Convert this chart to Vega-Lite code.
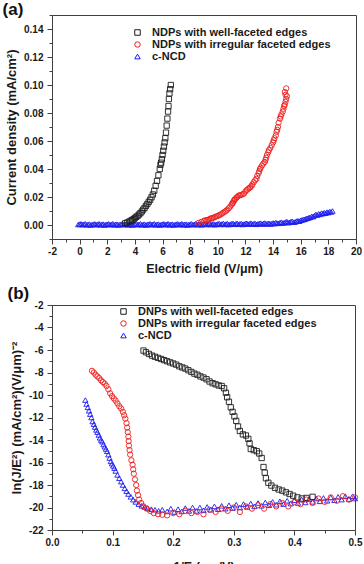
{
  "$schema": "https://vega.github.io/schema/vega-lite/v6.json",
  "padding": {"left": 2, "top": 0, "right": 4, "bottom": 0},
  "spacing": 9,
  "config": {
    "font": "Liberation Sans",
    "view": {"stroke": "#404040", "strokeWidth": 1},
    "axis": {
      "grid": false,
      "labelFont": "Liberation Sans",
      "labelFontWeight": "bold",
      "labelFontSize": 10,
      "labelColor": "#1a1a1a",
      "titleFont": "Liberation Sans",
      "titleFontWeight": "bold",
      "titleColor": "#1a1a1a",
      "domainColor": "#404040",
      "tickColor": "#404040",
      "labelFlush": false,
      "labelOverlap": false
    },
    "axisX": {"titleFontSize": 12.5},
    "axisY": {"titleFontSize": 13},
    "legend": {
      "labelFont": "Liberation Sans",
      "labelFontWeight": "bold",
      "labelFontSize": 11,
      "labelColor": "#1a1a1a",
      "labelLimit": 0,
      "symbolStrokeWidth": 1,
      "symbolSize": 30,
      "rowPadding": 0,
      "padding": 0,
      "labelOffset": 9
    },
    "title": {"font": "Liberation Sans", "fontWeight": "bold", "fontSize": 17, "color": "#111"}
  },
  "datasets": {
    "fe": [
      {"E": 3.3, "J": 0.0012, "series": "NDPs with well-faceted edges"},
      {"E": 3.45, "J": 0.0018, "series": "NDPs with well-faceted edges"},
      {"E": 3.6, "J": 0.0025, "series": "NDPs with well-faceted edges"},
      {"E": 3.7, "J": 0.003, "series": "NDPs with well-faceted edges"},
      {"E": 3.8, "J": 0.0035, "series": "NDPs with well-faceted edges"},
      {"E": 3.9, "J": 0.0042, "series": "NDPs with well-faceted edges"},
      {"E": 4.0, "J": 0.005, "series": "NDPs with well-faceted edges"},
      {"E": 4.1, "J": 0.0058, "series": "NDPs with well-faceted edges"},
      {"E": 4.2, "J": 0.0066, "series": "NDPs with well-faceted edges"},
      {"E": 4.3, "J": 0.0075, "series": "NDPs with well-faceted edges"},
      {"E": 4.4, "J": 0.0085, "series": "NDPs with well-faceted edges"},
      {"E": 4.5, "J": 0.0097, "series": "NDPs with well-faceted edges"},
      {"E": 4.6, "J": 0.011, "series": "NDPs with well-faceted edges"},
      {"E": 4.7, "J": 0.0122, "series": "NDPs with well-faceted edges"},
      {"E": 4.8, "J": 0.0137, "series": "NDPs with well-faceted edges"},
      {"E": 4.9, "J": 0.015, "series": "NDPs with well-faceted edges"},
      {"E": 5.0, "J": 0.0165, "series": "NDPs with well-faceted edges"},
      {"E": 5.1, "J": 0.018, "series": "NDPs with well-faceted edges"},
      {"E": 5.2, "J": 0.0198, "series": "NDPs with well-faceted edges"},
      {"E": 5.3, "J": 0.0218, "series": "NDPs with well-faceted edges"},
      {"E": 5.4, "J": 0.0245, "series": "NDPs with well-faceted edges"},
      {"E": 5.5, "J": 0.028, "series": "NDPs with well-faceted edges"},
      {"E": 5.6, "J": 0.0315, "series": "NDPs with well-faceted edges"},
      {"E": 5.7, "J": 0.0355, "series": "NDPs with well-faceted edges"},
      {"E": 5.8, "J": 0.04, "series": "NDPs with well-faceted edges"},
      {"E": 5.85, "J": 0.043, "series": "NDPs with well-faceted edges"},
      {"E": 5.9, "J": 0.0445, "series": "NDPs with well-faceted edges"},
      {"E": 5.95, "J": 0.047, "series": "NDPs with well-faceted edges"},
      {"E": 6.0, "J": 0.05, "series": "NDPs with well-faceted edges"},
      {"E": 6.05, "J": 0.053, "series": "NDPs with well-faceted edges"},
      {"E": 6.1, "J": 0.056, "series": "NDPs with well-faceted edges"},
      {"E": 6.15, "J": 0.059, "series": "NDPs with well-faceted edges"},
      {"E": 6.2, "J": 0.062, "series": "NDPs with well-faceted edges"},
      {"E": 6.25, "J": 0.066, "series": "NDPs with well-faceted edges"},
      {"E": 6.3, "J": 0.071, "series": "NDPs with well-faceted edges"},
      {"E": 6.35, "J": 0.076, "series": "NDPs with well-faceted edges"},
      {"E": 6.4, "J": 0.081, "series": "NDPs with well-faceted edges"},
      {"E": 6.43, "J": 0.085, "series": "NDPs with well-faceted edges"},
      {"E": 6.46, "J": 0.09, "series": "NDPs with well-faceted edges"},
      {"E": 6.5, "J": 0.094, "series": "NDPs with well-faceted edges"},
      {"E": 6.55, "J": 0.097, "series": "NDPs with well-faceted edges"},
      {"E": 6.6, "J": 0.1, "series": "NDPs with well-faceted edges"},

      {"E": 8.6, "J": 0.0015, "series": "NDPs with irregular faceted edges"},
      {"E": 8.8, "J": 0.0022, "series": "NDPs with irregular faceted edges"},
      {"E": 9.0, "J": 0.003, "series": "NDPs with irregular faceted edges"},
      {"E": 9.1, "J": 0.0033, "series": "NDPs with irregular faceted edges"},
      {"E": 9.2, "J": 0.0035, "series": "NDPs with irregular faceted edges"},
      {"E": 9.3, "J": 0.0037, "series": "NDPs with irregular faceted edges"},
      {"E": 9.4, "J": 0.0042, "series": "NDPs with irregular faceted edges"},
      {"E": 9.5, "J": 0.0047, "series": "NDPs with irregular faceted edges"},
      {"E": 9.6, "J": 0.005, "series": "NDPs with irregular faceted edges"},
      {"E": 9.7, "J": 0.0052, "series": "NDPs with irregular faceted edges"},
      {"E": 9.8, "J": 0.0057, "series": "NDPs with irregular faceted edges"},
      {"E": 9.9, "J": 0.0062, "series": "NDPs with irregular faceted edges"},
      {"E": 10.0, "J": 0.0065, "series": "NDPs with irregular faceted edges"},
      {"E": 10.1, "J": 0.007, "series": "NDPs with irregular faceted edges"},
      {"E": 10.2, "J": 0.0075, "series": "NDPs with irregular faceted edges"},
      {"E": 10.3, "J": 0.0082, "series": "NDPs with irregular faceted edges"},
      {"E": 10.4, "J": 0.0088, "series": "NDPs with irregular faceted edges"},
      {"E": 10.5, "J": 0.0095, "series": "NDPs with irregular faceted edges"},
      {"E": 10.6, "J": 0.0102, "series": "NDPs with irregular faceted edges"},
      {"E": 10.7, "J": 0.011, "series": "NDPs with irregular faceted edges"},
      {"E": 10.8, "J": 0.012, "series": "NDPs with irregular faceted edges"},
      {"E": 10.9, "J": 0.0132, "series": "NDPs with irregular faceted edges"},
      {"E": 11.0, "J": 0.0145, "series": "NDPs with irregular faceted edges"},
      {"E": 11.05, "J": 0.0155, "series": "NDPs with irregular faceted edges"},
      {"E": 11.1, "J": 0.016, "series": "NDPs with irregular faceted edges"},
      {"E": 11.15, "J": 0.017, "series": "NDPs with irregular faceted edges"},
      {"E": 11.2, "J": 0.018, "series": "NDPs with irregular faceted edges"},
      {"E": 11.25, "J": 0.0185, "series": "NDPs with irregular faceted edges"},
      {"E": 11.35, "J": 0.0195, "series": "NDPs with irregular faceted edges"},
      {"E": 11.4, "J": 0.02, "series": "NDPs with irregular faceted edges"},
      {"E": 11.5, "J": 0.021, "series": "NDPs with irregular faceted edges"},
      {"E": 11.6, "J": 0.0212, "series": "NDPs with irregular faceted edges"},
      {"E": 11.7, "J": 0.0215, "series": "NDPs with irregular faceted edges"},
      {"E": 11.8, "J": 0.022, "series": "NDPs with irregular faceted edges"},
      {"E": 11.9, "J": 0.0225, "series": "NDPs with irregular faceted edges"},
      {"E": 12.0, "J": 0.024, "series": "NDPs with irregular faceted edges"},
      {"E": 12.1, "J": 0.025, "series": "NDPs with irregular faceted edges"},
      {"E": 12.2, "J": 0.0258, "series": "NDPs with irregular faceted edges"},
      {"E": 12.3, "J": 0.0265, "series": "NDPs with irregular faceted edges"},
      {"E": 12.35, "J": 0.027, "series": "NDPs with irregular faceted edges"},
      {"E": 12.45, "J": 0.028, "series": "NDPs with irregular faceted edges"},
      {"E": 12.5, "J": 0.029, "series": "NDPs with irregular faceted edges"},
      {"E": 12.6, "J": 0.0305, "series": "NDPs with irregular faceted edges"},
      {"E": 12.7, "J": 0.032, "series": "NDPs with irregular faceted edges"},
      {"E": 12.8, "J": 0.033, "series": "NDPs with irregular faceted edges"},
      {"E": 12.85, "J": 0.035, "series": "NDPs with irregular faceted edges"},
      {"E": 12.95, "J": 0.037, "series": "NDPs with irregular faceted edges"},
      {"E": 13.0, "J": 0.0385, "series": "NDPs with irregular faceted edges"},
      {"E": 13.05, "J": 0.04, "series": "NDPs with irregular faceted edges"},
      {"E": 13.1, "J": 0.041, "series": "NDPs with irregular faceted edges"},
      {"E": 13.2, "J": 0.0425, "series": "NDPs with irregular faceted edges"},
      {"E": 13.3, "J": 0.044, "series": "NDPs with irregular faceted edges"},
      {"E": 13.4, "J": 0.045, "series": "NDPs with irregular faceted edges"},
      {"E": 13.45, "J": 0.0465, "series": "NDPs with irregular faceted edges"},
      {"E": 13.5, "J": 0.048, "series": "NDPs with irregular faceted edges"},
      {"E": 13.55, "J": 0.05, "series": "NDPs with irregular faceted edges"},
      {"E": 13.65, "J": 0.052, "series": "NDPs with irregular faceted edges"},
      {"E": 13.7, "J": 0.0535, "series": "NDPs with irregular faceted edges"},
      {"E": 13.8, "J": 0.055, "series": "NDPs with irregular faceted edges"},
      {"E": 13.9, "J": 0.057, "series": "NDPs with irregular faceted edges"},
      {"E": 14.0, "J": 0.059, "series": "NDPs with irregular faceted edges"},
      {"E": 14.05, "J": 0.0605, "series": "NDPs with irregular faceted edges"},
      {"E": 14.1, "J": 0.062, "series": "NDPs with irregular faceted edges"},
      {"E": 14.2, "J": 0.064, "series": "NDPs with irregular faceted edges"},
      {"E": 14.25, "J": 0.0665, "series": "NDPs with irregular faceted edges"},
      {"E": 14.3, "J": 0.068, "series": "NDPs with irregular faceted edges"},
      {"E": 14.35, "J": 0.07, "series": "NDPs with irregular faceted edges"},
      {"E": 14.4, "J": 0.073, "series": "NDPs with irregular faceted edges"},
      {"E": 14.5, "J": 0.076, "series": "NDPs with irregular faceted edges"},
      {"E": 14.55, "J": 0.0775, "series": "NDPs with irregular faceted edges"},
      {"E": 14.6, "J": 0.079, "series": "NDPs with irregular faceted edges"},
      {"E": 14.7, "J": 0.081, "series": "NDPs with irregular faceted edges"},
      {"E": 14.75, "J": 0.083, "series": "NDPs with irregular faceted edges"},
      {"E": 14.8, "J": 0.085, "series": "NDPs with irregular faceted edges"},
      {"E": 14.85, "J": 0.086, "series": "NDPs with irregular faceted edges"},
      {"E": 14.9, "J": 0.088, "series": "NDPs with irregular faceted edges"},
      {"E": 14.95, "J": 0.09, "series": "NDPs with irregular faceted edges"},
      {"E": 15.0, "J": 0.092, "series": "NDPs with irregular faceted edges"},
      {"E": 14.9, "J": 0.093, "series": "NDPs with irregular faceted edges"},
      {"E": 14.85, "J": 0.095, "series": "NDPs with irregular faceted edges"},
      {"E": 14.95, "J": 0.0976, "series": "NDPs with irregular faceted edges"},

      {"E": -0.1, "J": 0.0003, "series": "c-NCD"},
      {"E": 0.0, "J": 0.0006, "series": "c-NCD"},
      {"E": 0.1, "J": 0.0008, "series": "c-NCD"},
      {"E": 0.2, "J": 0.0002, "series": "c-NCD"},
      {"E": 0.3, "J": 0.0005, "series": "c-NCD"},
      {"E": 0.4, "J": 0.0009, "series": "c-NCD"},
      {"E": 0.5, "J": 0.0001, "series": "c-NCD"},
      {"E": 0.6, "J": 0.0004, "series": "c-NCD"},
      {"E": 0.7, "J": 0.0006, "series": "c-NCD"},
      {"E": 0.8, "J": 0.0, "series": "c-NCD"},
      {"E": 0.9, "J": 0.0003, "series": "c-NCD"},
      {"E": 1.0, "J": 0.0006, "series": "c-NCD"},
      {"E": 1.1, "J": 0.0008, "series": "c-NCD"},
      {"E": 1.2, "J": 0.0002, "series": "c-NCD"},
      {"E": 1.3, "J": 0.0005, "series": "c-NCD"},
      {"E": 1.4, "J": 0.0009, "series": "c-NCD"},
      {"E": 1.5, "J": 0.0001, "series": "c-NCD"},
      {"E": 1.6, "J": 0.0004, "series": "c-NCD"},
      {"E": 1.7, "J": 0.0006, "series": "c-NCD"},
      {"E": 1.8, "J": 0.0, "series": "c-NCD"},
      {"E": 1.9, "J": 0.0003, "series": "c-NCD"},
      {"E": 2.0, "J": 0.0006, "series": "c-NCD"},
      {"E": 2.1, "J": 0.0008, "series": "c-NCD"},
      {"E": 2.2, "J": 0.0002, "series": "c-NCD"},
      {"E": 2.3, "J": 0.0005, "series": "c-NCD"},
      {"E": 2.4, "J": 0.0009, "series": "c-NCD"},
      {"E": 2.5, "J": 0.0001, "series": "c-NCD"},
      {"E": 2.6, "J": 0.0004, "series": "c-NCD"},
      {"E": 2.7, "J": 0.0006, "series": "c-NCD"},
      {"E": 2.8, "J": 0.0, "series": "c-NCD"},
      {"E": 2.9, "J": 0.0003, "series": "c-NCD"},
      {"E": 3.0, "J": 0.0006, "series": "c-NCD"},
      {"E": 3.1, "J": 0.0008, "series": "c-NCD"},
      {"E": 3.2, "J": 0.0002, "series": "c-NCD"},
      {"E": 3.3, "J": 0.0005, "series": "c-NCD"},
      {"E": 3.4, "J": 0.0009, "series": "c-NCD"},
      {"E": 3.5, "J": 0.0001, "series": "c-NCD"},
      {"E": 3.6, "J": 0.0004, "series": "c-NCD"},
      {"E": 3.7, "J": 0.0006, "series": "c-NCD"},
      {"E": 3.8, "J": 0.0, "series": "c-NCD"},
      {"E": 3.9, "J": 0.0003, "series": "c-NCD"},
      {"E": 4.0, "J": 0.0006, "series": "c-NCD"},
      {"E": 4.1, "J": 0.0008, "series": "c-NCD"},
      {"E": 4.2, "J": 0.0002, "series": "c-NCD"},
      {"E": 4.3, "J": 0.0005, "series": "c-NCD"},
      {"E": 4.4, "J": 0.0009, "series": "c-NCD"},
      {"E": 4.5, "J": 0.0001, "series": "c-NCD"},
      {"E": 4.6, "J": 0.0004, "series": "c-NCD"},
      {"E": 4.7, "J": 0.0006, "series": "c-NCD"},
      {"E": 4.8, "J": 0.0, "series": "c-NCD"},
      {"E": 4.9, "J": 0.0003, "series": "c-NCD"},
      {"E": 5.0, "J": 0.0006, "series": "c-NCD"},
      {"E": 5.1, "J": 0.0008, "series": "c-NCD"},
      {"E": 5.2, "J": 0.0002, "series": "c-NCD"},
      {"E": 5.3, "J": 0.0005, "series": "c-NCD"},
      {"E": 5.4, "J": 0.0009, "series": "c-NCD"},
      {"E": 5.5, "J": 0.0001, "series": "c-NCD"},
      {"E": 5.6, "J": 0.0004, "series": "c-NCD"},
      {"E": 5.7, "J": 0.0006, "series": "c-NCD"},
      {"E": 5.8, "J": 0.0, "series": "c-NCD"},
      {"E": 5.9, "J": 0.0003, "series": "c-NCD"},
      {"E": 6.0, "J": 0.0006, "series": "c-NCD"},
      {"E": 6.1, "J": 0.0008, "series": "c-NCD"},
      {"E": 6.2, "J": 0.0002, "series": "c-NCD"},
      {"E": 6.3, "J": 0.0005, "series": "c-NCD"},
      {"E": 6.4, "J": 0.0009, "series": "c-NCD"},
      {"E": 6.5, "J": 0.0001, "series": "c-NCD"},
      {"E": 6.6, "J": 0.0004, "series": "c-NCD"},
      {"E": 6.7, "J": 0.0006, "series": "c-NCD"},
      {"E": 6.8, "J": 0.0, "series": "c-NCD"},
      {"E": 6.9, "J": 0.0003, "series": "c-NCD"},
      {"E": 7.0, "J": 0.0006, "series": "c-NCD"},
      {"E": 7.1, "J": 0.0008, "series": "c-NCD"},
      {"E": 7.2, "J": 0.0002, "series": "c-NCD"},
      {"E": 7.3, "J": 0.0005, "series": "c-NCD"},
      {"E": 7.4, "J": 0.0009, "series": "c-NCD"},
      {"E": 7.5, "J": 0.0001, "series": "c-NCD"},
      {"E": 7.6, "J": 0.0004, "series": "c-NCD"},
      {"E": 7.7, "J": 0.0006, "series": "c-NCD"},
      {"E": 7.8, "J": 0.0, "series": "c-NCD"},
      {"E": 7.9, "J": 0.0003, "series": "c-NCD"},
      {"E": 8.0, "J": 0.0006, "series": "c-NCD"},
      {"E": 8.1, "J": 0.0008, "series": "c-NCD"},
      {"E": 8.2, "J": 0.0002, "series": "c-NCD"},
      {"E": 8.3, "J": 0.0005, "series": "c-NCD"},
      {"E": 8.4, "J": 0.0009, "series": "c-NCD"},
      {"E": 8.5, "J": 0.0002, "series": "c-NCD"},
      {"E": 8.6, "J": 0.0005, "series": "c-NCD"},
      {"E": 8.7, "J": 0.0007, "series": "c-NCD"},
      {"E": 8.8, "J": 0.0001, "series": "c-NCD"},
      {"E": 8.9, "J": 0.0004, "series": "c-NCD"},
      {"E": 9.0, "J": 0.0007, "series": "c-NCD"},
      {"E": 9.1, "J": 0.0009, "series": "c-NCD"},
      {"E": 9.2, "J": 0.0003, "series": "c-NCD"},
      {"E": 9.3, "J": 0.0006, "series": "c-NCD"},
      {"E": 9.4, "J": 0.001, "series": "c-NCD"},
      {"E": 9.5, "J": 0.0003, "series": "c-NCD"},
      {"E": 9.6, "J": 0.0006, "series": "c-NCD"},
      {"E": 9.7, "J": 0.0008, "series": "c-NCD"},
      {"E": 9.8, "J": 0.0002, "series": "c-NCD"},
      {"E": 9.9, "J": 0.0005, "series": "c-NCD"},
      {"E": 10.0, "J": 0.0008, "series": "c-NCD"},
      {"E": 10.1, "J": 0.001, "series": "c-NCD"},
      {"E": 10.2, "J": 0.0004, "series": "c-NCD"},
      {"E": 10.3, "J": 0.0007, "series": "c-NCD"},
      {"E": 10.4, "J": 0.0011, "series": "c-NCD"},
      {"E": 10.5, "J": 0.0004, "series": "c-NCD"},
      {"E": 10.6, "J": 0.0007, "series": "c-NCD"},
      {"E": 10.7, "J": 0.0009, "series": "c-NCD"},
      {"E": 10.8, "J": 0.0003, "series": "c-NCD"},
      {"E": 10.9, "J": 0.0006, "series": "c-NCD"},
      {"E": 11.0, "J": 0.0009, "series": "c-NCD"},
      {"E": 11.1, "J": 0.0011, "series": "c-NCD"},
      {"E": 11.2, "J": 0.0005, "series": "c-NCD"},
      {"E": 11.3, "J": 0.0008, "series": "c-NCD"},
      {"E": 11.4, "J": 0.0012, "series": "c-NCD"},
      {"E": 11.5, "J": 0.0005, "series": "c-NCD"},
      {"E": 11.6, "J": 0.0008, "series": "c-NCD"},
      {"E": 11.7, "J": 0.001, "series": "c-NCD"},
      {"E": 11.8, "J": 0.0004, "series": "c-NCD"},
      {"E": 11.9, "J": 0.0007, "series": "c-NCD"},
      {"E": 12.0, "J": 0.001, "series": "c-NCD"},
      {"E": 12.1, "J": 0.0012, "series": "c-NCD"},
      {"E": 12.2, "J": 0.0006, "series": "c-NCD"},
      {"E": 12.3, "J": 0.0009, "series": "c-NCD"},
      {"E": 12.4, "J": 0.0013, "series": "c-NCD"},
      {"E": 12.5, "J": 0.0006, "series": "c-NCD"},
      {"E": 12.6, "J": 0.0009, "series": "c-NCD"},
      {"E": 12.7, "J": 0.0011, "series": "c-NCD"},
      {"E": 12.8, "J": 0.0005, "series": "c-NCD"},
      {"E": 12.9, "J": 0.0008, "series": "c-NCD"},
      {"E": 13.0, "J": 0.0011, "series": "c-NCD"},
      {"E": 13.1, "J": 0.0013, "series": "c-NCD"},
      {"E": 13.2, "J": 0.0007, "series": "c-NCD"},
      {"E": 13.3, "J": 0.001, "series": "c-NCD"},
      {"E": 13.4, "J": 0.0014, "series": "c-NCD"},
      {"E": 13.5, "J": 0.0007, "series": "c-NCD"},
      {"E": 13.6, "J": 0.001, "series": "c-NCD"},
      {"E": 13.7, "J": 0.0012, "series": "c-NCD"},
      {"E": 13.8, "J": 0.0008, "series": "c-NCD"},
      {"E": 13.9, "J": 0.0009, "series": "c-NCD"},
      {"E": 14.0, "J": 0.0014, "series": "c-NCD"},
      {"E": 14.1, "J": 0.001, "series": "c-NCD"},
      {"E": 14.2, "J": 0.0018, "series": "c-NCD"},
      {"E": 14.3, "J": 0.0013, "series": "c-NCD"},
      {"E": 14.4, "J": 0.0012, "series": "c-NCD"},
      {"E": 14.5, "J": 0.0017, "series": "c-NCD"},
      {"E": 14.6, "J": 0.002, "series": "c-NCD"},
      {"E": 14.7, "J": 0.0014, "series": "c-NCD"},
      {"E": 14.8, "J": 0.0016, "series": "c-NCD"},
      {"E": 14.9, "J": 0.0021, "series": "c-NCD"},
      {"E": 15.0, "J": 0.0024, "series": "c-NCD"},
      {"E": 15.1, "J": 0.0017, "series": "c-NCD"},
      {"E": 15.2, "J": 0.0019, "series": "c-NCD"},
      {"E": 15.3, "J": 0.0025, "series": "c-NCD"},
      {"E": 15.4, "J": 0.0026, "series": "c-NCD"},
      {"E": 15.5, "J": 0.002, "series": "c-NCD"},
      {"E": 15.6, "J": 0.0022, "series": "c-NCD"},
      {"E": 15.7, "J": 0.0028, "series": "c-NCD"},
      {"E": 15.8, "J": 0.003, "series": "c-NCD"},
      {"E": 15.9, "J": 0.0027, "series": "c-NCD"},
      {"E": 16.0, "J": 0.0034, "series": "c-NCD"},
      {"E": 16.1, "J": 0.0036, "series": "c-NCD"},
      {"E": 16.2, "J": 0.004, "series": "c-NCD"},
      {"E": 16.3, "J": 0.0041, "series": "c-NCD"},
      {"E": 16.4, "J": 0.0047, "series": "c-NCD"},
      {"E": 16.5, "J": 0.0048, "series": "c-NCD"},
      {"E": 16.6, "J": 0.0053, "series": "c-NCD"},
      {"E": 16.7, "J": 0.0055, "series": "c-NCD"},
      {"E": 16.8, "J": 0.0062, "series": "c-NCD"},
      {"E": 16.9, "J": 0.006, "series": "c-NCD"},
      {"E": 17.0, "J": 0.0068, "series": "c-NCD"},
      {"E": 17.1, "J": 0.0075, "series": "c-NCD"},
      {"E": 17.2, "J": 0.0071, "series": "c-NCD"},
      {"E": 17.3, "J": 0.008, "series": "c-NCD"},
      {"E": 17.4, "J": 0.0076, "series": "c-NCD"},
      {"E": 17.5, "J": 0.0085, "series": "c-NCD"},
      {"E": 17.6, "J": 0.0081, "series": "c-NCD"},
      {"E": 17.7, "J": 0.0088, "series": "c-NCD"},
      {"E": 17.8, "J": 0.0084, "series": "c-NCD"},
      {"E": 17.9, "J": 0.0092, "series": "c-NCD"},
      {"E": 18.0, "J": 0.0089, "series": "c-NCD"},
      {"E": 18.1, "J": 0.0096, "series": "c-NCD"},
      {"E": 18.2, "J": 0.0093, "series": "c-NCD"},
      {"E": 18.3, "J": 0.01, "series": "c-NCD"}
    ],
    "fn": [
      {"invE": 0.151, "lnJ": -6.05, "series": "DNPs with well-faceted edges"},
      {"invE": 0.155, "lnJ": -6.2, "series": "DNPs with well-faceted edges"},
      {"invE": 0.16, "lnJ": -6.35, "series": "DNPs with well-faceted edges"},
      {"invE": 0.165, "lnJ": -6.5, "series": "DNPs with well-faceted edges"},
      {"invE": 0.17, "lnJ": -6.6, "series": "DNPs with well-faceted edges"},
      {"invE": 0.175, "lnJ": -6.7, "series": "DNPs with well-faceted edges"},
      {"invE": 0.18, "lnJ": -6.8, "series": "DNPs with well-faceted edges"},
      {"invE": 0.185, "lnJ": -6.9, "series": "DNPs with well-faceted edges"},
      {"invE": 0.19, "lnJ": -7.0, "series": "DNPs with well-faceted edges"},
      {"invE": 0.195, "lnJ": -7.1, "series": "DNPs with well-faceted edges"},
      {"invE": 0.2, "lnJ": -7.2, "series": "DNPs with well-faceted edges"},
      {"invE": 0.205, "lnJ": -7.3, "series": "DNPs with well-faceted edges"},
      {"invE": 0.21, "lnJ": -7.45, "series": "DNPs with well-faceted edges"},
      {"invE": 0.215, "lnJ": -7.55, "series": "DNPs with well-faceted edges"},
      {"invE": 0.22, "lnJ": -7.65, "series": "DNPs with well-faceted edges"},
      {"invE": 0.225, "lnJ": -7.8, "series": "DNPs with well-faceted edges"},
      {"invE": 0.23, "lnJ": -7.95, "series": "DNPs with well-faceted edges"},
      {"invE": 0.235, "lnJ": -8.1, "series": "DNPs with well-faceted edges"},
      {"invE": 0.24, "lnJ": -8.2, "series": "DNPs with well-faceted edges"},
      {"invE": 0.245, "lnJ": -8.35, "series": "DNPs with well-faceted edges"},
      {"invE": 0.25, "lnJ": -8.45, "series": "DNPs with well-faceted edges"},
      {"invE": 0.255, "lnJ": -8.6, "series": "DNPs with well-faceted edges"},
      {"invE": 0.26, "lnJ": -8.8, "series": "DNPs with well-faceted edges"},
      {"invE": 0.265, "lnJ": -8.95, "series": "DNPs with well-faceted edges"},
      {"invE": 0.27, "lnJ": -9.05, "series": "DNPs with well-faceted edges"},
      {"invE": 0.275, "lnJ": -9.15, "series": "DNPs with well-faceted edges"},
      {"invE": 0.28, "lnJ": -9.2, "series": "DNPs with well-faceted edges"},
      {"invE": 0.284, "lnJ": -9.4, "series": "DNPs with well-faceted edges"},
      {"invE": 0.287, "lnJ": -9.8, "series": "DNPs with well-faceted edges"},
      {"invE": 0.289, "lnJ": -10.2, "series": "DNPs with well-faceted edges"},
      {"invE": 0.292, "lnJ": -10.6, "series": "DNPs with well-faceted edges"},
      {"invE": 0.295, "lnJ": -11.1, "series": "DNPs with well-faceted edges"},
      {"invE": 0.298, "lnJ": -11.5, "series": "DNPs with well-faceted edges"},
      {"invE": 0.301, "lnJ": -11.9, "series": "DNPs with well-faceted edges"},
      {"invE": 0.304, "lnJ": -12.3, "series": "DNPs with well-faceted edges"},
      {"invE": 0.307, "lnJ": -12.8, "series": "DNPs with well-faceted edges"},
      {"invE": 0.31, "lnJ": -13.2, "series": "DNPs with well-faceted edges"},
      {"invE": 0.315, "lnJ": -13.5, "series": "DNPs with well-faceted edges"},
      {"invE": 0.32, "lnJ": -13.6, "series": "DNPs with well-faceted edges"},
      {"invE": 0.324, "lnJ": -13.9, "series": "DNPs with well-faceted edges"},
      {"invE": 0.326, "lnJ": -14.3, "series": "DNPs with well-faceted edges"},
      {"invE": 0.328, "lnJ": -14.8, "series": "DNPs with well-faceted edges"},
      {"invE": 0.333, "lnJ": -14.9, "series": "DNPs with well-faceted edges"},
      {"invE": 0.338, "lnJ": -15.0, "series": "DNPs with well-faceted edges"},
      {"invE": 0.342, "lnJ": -15.2, "series": "DNPs with well-faceted edges"},
      {"invE": 0.346, "lnJ": -15.6, "series": "DNPs with well-faceted edges"},
      {"invE": 0.349, "lnJ": -16.4, "series": "DNPs with well-faceted edges"},
      {"invE": 0.351, "lnJ": -16.9, "series": "DNPs with well-faceted edges"},
      {"invE": 0.353, "lnJ": -17.4, "series": "DNPs with well-faceted edges"},
      {"invE": 0.357, "lnJ": -17.8, "series": "DNPs with well-faceted edges"},
      {"invE": 0.362, "lnJ": -18.05, "series": "DNPs with well-faceted edges"},
      {"invE": 0.368, "lnJ": -18.25, "series": "DNPs with well-faceted edges"},
      {"invE": 0.374, "lnJ": -18.4, "series": "DNPs with well-faceted edges"},
      {"invE": 0.38, "lnJ": -18.5, "series": "DNPs with well-faceted edges"},
      {"invE": 0.386, "lnJ": -18.65, "series": "DNPs with well-faceted edges"},
      {"invE": 0.392, "lnJ": -18.8, "series": "DNPs with well-faceted edges"},
      {"invE": 0.398, "lnJ": -18.95, "series": "DNPs with well-faceted edges"},
      {"invE": 0.405, "lnJ": -19.1, "series": "DNPs with well-faceted edges"},
      {"invE": 0.412, "lnJ": -19.2, "series": "DNPs with well-faceted edges"},
      {"invE": 0.42, "lnJ": -19.15, "series": "DNPs with well-faceted edges"},
      {"invE": 0.43, "lnJ": -19.05, "series": "DNPs with well-faceted edges"},

      {"invE": 0.066, "lnJ": -7.85, "series": "DNPs with irregular faceted edges"},
      {"invE": 0.069, "lnJ": -8.0, "series": "DNPs with irregular faceted edges"},
      {"invE": 0.072, "lnJ": -8.2, "series": "DNPs with irregular faceted edges"},
      {"invE": 0.075, "lnJ": -8.35, "series": "DNPs with irregular faceted edges"},
      {"invE": 0.078, "lnJ": -8.5, "series": "DNPs with irregular faceted edges"},
      {"invE": 0.081, "lnJ": -8.7, "series": "DNPs with irregular faceted edges"},
      {"invE": 0.084, "lnJ": -8.85, "series": "DNPs with irregular faceted edges"},
      {"invE": 0.087, "lnJ": -9.0, "series": "DNPs with irregular faceted edges"},
      {"invE": 0.09, "lnJ": -9.2, "series": "DNPs with irregular faceted edges"},
      {"invE": 0.093, "lnJ": -9.5, "series": "DNPs with irregular faceted edges"},
      {"invE": 0.096, "lnJ": -9.85, "series": "DNPs with irregular faceted edges"},
      {"invE": 0.099, "lnJ": -10.1, "series": "DNPs with irregular faceted edges"},
      {"invE": 0.102, "lnJ": -10.3, "series": "DNPs with irregular faceted edges"},
      {"invE": 0.105, "lnJ": -10.5, "series": "DNPs with irregular faceted edges"},
      {"invE": 0.108, "lnJ": -10.75, "series": "DNPs with irregular faceted edges"},
      {"invE": 0.111, "lnJ": -11.0, "series": "DNPs with irregular faceted edges"},
      {"invE": 0.114, "lnJ": -11.2, "series": "DNPs with irregular faceted edges"},
      {"invE": 0.117, "lnJ": -11.5, "series": "DNPs with irregular faceted edges"},
      {"invE": 0.119, "lnJ": -11.8, "series": "DNPs with irregular faceted edges"},
      {"invE": 0.121, "lnJ": -12.1, "series": "DNPs with irregular faceted edges"},
      {"invE": 0.123, "lnJ": -12.5, "series": "DNPs with irregular faceted edges"},
      {"invE": 0.124, "lnJ": -12.9, "series": "DNPs with irregular faceted edges"},
      {"invE": 0.125, "lnJ": -13.3, "series": "DNPs with irregular faceted edges"},
      {"invE": 0.126, "lnJ": -13.7, "series": "DNPs with irregular faceted edges"},
      {"invE": 0.1265, "lnJ": -14.1, "series": "DNPs with irregular faceted edges"},
      {"invE": 0.127, "lnJ": -14.5, "series": "DNPs with irregular faceted edges"},
      {"invE": 0.128, "lnJ": -14.9, "series": "DNPs with irregular faceted edges"},
      {"invE": 0.129, "lnJ": -15.3, "series": "DNPs with irregular faceted edges"},
      {"invE": 0.131, "lnJ": -15.8, "series": "DNPs with irregular faceted edges"},
      {"invE": 0.133, "lnJ": -16.2, "series": "DNPs with irregular faceted edges"},
      {"invE": 0.134, "lnJ": -16.6, "series": "DNPs with irregular faceted edges"},
      {"invE": 0.135, "lnJ": -17.0, "series": "DNPs with irregular faceted edges"},
      {"invE": 0.137, "lnJ": -17.5, "series": "DNPs with irregular faceted edges"},
      {"invE": 0.139, "lnJ": -18.0, "series": "DNPs with irregular faceted edges"},
      {"invE": 0.14, "lnJ": -18.5, "series": "DNPs with irregular faceted edges"},
      {"invE": 0.142, "lnJ": -18.9, "series": "DNPs with irregular faceted edges"},
      {"invE": 0.144, "lnJ": -19.3, "series": "DNPs with irregular faceted edges"},
      {"invE": 0.147, "lnJ": -19.6, "series": "DNPs with irregular faceted edges"},
      {"invE": 0.151, "lnJ": -19.9, "series": "DNPs with irregular faceted edges"},
      {"invE": 0.156, "lnJ": -20.1, "series": "DNPs with irregular faceted edges"},
      {"invE": 0.162, "lnJ": -20.3, "series": "DNPs with irregular faceted edges"},
      {"invE": 0.168, "lnJ": -20.5, "series": "DNPs with irregular faceted edges"},
      {"invE": 0.175, "lnJ": -20.6, "series": "DNPs with irregular faceted edges"},
      {"invE": 0.182, "lnJ": -20.65, "series": "DNPs with irregular faceted edges"},
      {"invE": 0.19, "lnJ": -20.7, "series": "DNPs with irregular faceted edges"},
      {"invE": 0.2, "lnJ": -20.5, "series": "DNPs with irregular faceted edges"},
      {"invE": 0.21, "lnJ": -20.6, "series": "DNPs with irregular faceted edges"},
      {"invE": 0.22, "lnJ": -20.3, "series": "DNPs with irregular faceted edges"},
      {"invE": 0.23, "lnJ": -20.5, "series": "DNPs with irregular faceted edges"},
      {"invE": 0.24, "lnJ": -20.4, "series": "DNPs with irregular faceted edges"},
      {"invE": 0.25, "lnJ": -20.6, "series": "DNPs with irregular faceted edges"},
      {"invE": 0.26, "lnJ": -20.2, "series": "DNPs with irregular faceted edges"},
      {"invE": 0.27, "lnJ": -20.4, "series": "DNPs with irregular faceted edges"},
      {"invE": 0.28, "lnJ": -20.1, "series": "DNPs with irregular faceted edges"},
      {"invE": 0.29, "lnJ": -20.3, "series": "DNPs with irregular faceted edges"},
      {"invE": 0.3, "lnJ": -20.0, "series": "DNPs with irregular faceted edges"},
      {"invE": 0.31, "lnJ": -20.4, "series": "DNPs with irregular faceted edges"},
      {"invE": 0.32, "lnJ": -19.9, "series": "DNPs with irregular faceted edges"},
      {"invE": 0.33, "lnJ": -20.1, "series": "DNPs with irregular faceted edges"},
      {"invE": 0.34, "lnJ": -19.8, "series": "DNPs with irregular faceted edges"},
      {"invE": 0.35, "lnJ": -20.1, "series": "DNPs with irregular faceted edges"},
      {"invE": 0.36, "lnJ": -19.7, "series": "DNPs with irregular faceted edges"},
      {"invE": 0.37, "lnJ": -19.9, "series": "DNPs with irregular faceted edges"},
      {"invE": 0.38, "lnJ": -19.6, "series": "DNPs with irregular faceted edges"},
      {"invE": 0.39, "lnJ": -19.9, "series": "DNPs with irregular faceted edges"},
      {"invE": 0.4, "lnJ": -19.5, "series": "DNPs with irregular faceted edges"},
      {"invE": 0.41, "lnJ": -19.7, "series": "DNPs with irregular faceted edges"},
      {"invE": 0.42, "lnJ": -19.3, "series": "DNPs with irregular faceted edges"},
      {"invE": 0.43, "lnJ": -19.6, "series": "DNPs with irregular faceted edges"},
      {"invE": 0.44, "lnJ": -19.2, "series": "DNPs with irregular faceted edges"},
      {"invE": 0.45, "lnJ": -19.5, "series": "DNPs with irregular faceted edges"},
      {"invE": 0.46, "lnJ": -19.1, "series": "DNPs with irregular faceted edges"},
      {"invE": 0.47, "lnJ": -19.4, "series": "DNPs with irregular faceted edges"},
      {"invE": 0.48, "lnJ": -19.0, "series": "DNPs with irregular faceted edges"},
      {"invE": 0.49, "lnJ": -19.3, "series": "DNPs with irregular faceted edges"},
      {"invE": 0.5, "lnJ": -19.1, "series": "DNPs with irregular faceted edges"},

      {"invE": 0.055, "lnJ": -10.45, "series": "c-NCD"},
      {"invE": 0.057, "lnJ": -10.8, "series": "c-NCD"},
      {"invE": 0.059, "lnJ": -11.1, "series": "c-NCD"},
      {"invE": 0.061, "lnJ": -11.4, "series": "c-NCD"},
      {"invE": 0.063, "lnJ": -11.7, "series": "c-NCD"},
      {"invE": 0.065, "lnJ": -12.0, "series": "c-NCD"},
      {"invE": 0.067, "lnJ": -12.35, "series": "c-NCD"},
      {"invE": 0.069, "lnJ": -12.6, "series": "c-NCD"},
      {"invE": 0.071, "lnJ": -12.85, "series": "c-NCD"},
      {"invE": 0.073, "lnJ": -13.1, "series": "c-NCD"},
      {"invE": 0.075, "lnJ": -13.3, "series": "c-NCD"},
      {"invE": 0.077, "lnJ": -13.55, "series": "c-NCD"},
      {"invE": 0.079, "lnJ": -13.8, "series": "c-NCD"},
      {"invE": 0.081, "lnJ": -14.0, "series": "c-NCD"},
      {"invE": 0.083, "lnJ": -14.15, "series": "c-NCD"},
      {"invE": 0.085, "lnJ": -14.4, "series": "c-NCD"},
      {"invE": 0.087, "lnJ": -14.6, "series": "c-NCD"},
      {"invE": 0.089, "lnJ": -14.8, "series": "c-NCD"},
      {"invE": 0.091, "lnJ": -15.0, "series": "c-NCD"},
      {"invE": 0.093, "lnJ": -15.3, "series": "c-NCD"},
      {"invE": 0.095, "lnJ": -15.6, "series": "c-NCD"},
      {"invE": 0.097, "lnJ": -15.9, "series": "c-NCD"},
      {"invE": 0.099, "lnJ": -16.1, "series": "c-NCD"},
      {"invE": 0.101, "lnJ": -16.3, "series": "c-NCD"},
      {"invE": 0.103, "lnJ": -16.5, "series": "c-NCD"},
      {"invE": 0.105, "lnJ": -16.75, "series": "c-NCD"},
      {"invE": 0.108, "lnJ": -17.1, "series": "c-NCD"},
      {"invE": 0.111, "lnJ": -17.4, "series": "c-NCD"},
      {"invE": 0.114, "lnJ": -17.7, "series": "c-NCD"},
      {"invE": 0.117, "lnJ": -18.0, "series": "c-NCD"},
      {"invE": 0.12, "lnJ": -18.3, "series": "c-NCD"},
      {"invE": 0.123, "lnJ": -18.55, "series": "c-NCD"},
      {"invE": 0.126, "lnJ": -18.8, "series": "c-NCD"},
      {"invE": 0.13, "lnJ": -19.05, "series": "c-NCD"},
      {"invE": 0.134, "lnJ": -19.3, "series": "c-NCD"},
      {"invE": 0.138, "lnJ": -19.5, "series": "c-NCD"},
      {"invE": 0.143, "lnJ": -19.7, "series": "c-NCD"},
      {"invE": 0.148, "lnJ": -19.85, "series": "c-NCD"},
      {"invE": 0.153, "lnJ": -19.95, "series": "c-NCD"},
      {"invE": 0.158, "lnJ": -20.05, "series": "c-NCD"},
      {"invE": 0.164, "lnJ": -20.15, "series": "c-NCD"},
      {"invE": 0.17, "lnJ": -20.2, "series": "c-NCD"},
      {"invE": 0.176, "lnJ": -20.3, "series": "c-NCD"},
      {"invE": 0.182, "lnJ": -20.2, "series": "c-NCD"},
      {"invE": 0.19, "lnJ": -20.35, "series": "c-NCD"},
      {"invE": 0.196, "lnJ": -20.1, "series": "c-NCD"},
      {"invE": 0.202, "lnJ": -20.4, "series": "c-NCD"},
      {"invE": 0.208, "lnJ": -20.15, "series": "c-NCD"},
      {"invE": 0.214, "lnJ": -20.35, "series": "c-NCD"},
      {"invE": 0.22, "lnJ": -20.05, "series": "c-NCD"},
      {"invE": 0.226, "lnJ": -20.3, "series": "c-NCD"},
      {"invE": 0.232, "lnJ": -20.0, "series": "c-NCD"},
      {"invE": 0.238, "lnJ": -20.3, "series": "c-NCD"},
      {"invE": 0.244, "lnJ": -20.0, "series": "c-NCD"},
      {"invE": 0.25, "lnJ": -20.25, "series": "c-NCD"},
      {"invE": 0.256, "lnJ": -19.95, "series": "c-NCD"},
      {"invE": 0.262, "lnJ": -20.2, "series": "c-NCD"},
      {"invE": 0.268, "lnJ": -19.9, "series": "c-NCD"},
      {"invE": 0.274, "lnJ": -20.15, "series": "c-NCD"},
      {"invE": 0.28, "lnJ": -19.85, "series": "c-NCD"},
      {"invE": 0.286, "lnJ": -20.1, "series": "c-NCD"},
      {"invE": 0.292, "lnJ": -19.8, "series": "c-NCD"},
      {"invE": 0.298, "lnJ": -20.05, "series": "c-NCD"},
      {"invE": 0.304, "lnJ": -19.75, "series": "c-NCD"},
      {"invE": 0.31, "lnJ": -20.0, "series": "c-NCD"},
      {"invE": 0.316, "lnJ": -19.7, "series": "c-NCD"},
      {"invE": 0.322, "lnJ": -19.95, "series": "c-NCD"},
      {"invE": 0.328, "lnJ": -19.65, "series": "c-NCD"},
      {"invE": 0.334, "lnJ": -19.9, "series": "c-NCD"},
      {"invE": 0.34, "lnJ": -19.6, "series": "c-NCD"},
      {"invE": 0.346, "lnJ": -19.85, "series": "c-NCD"},
      {"invE": 0.352, "lnJ": -19.55, "series": "c-NCD"},
      {"invE": 0.358, "lnJ": -19.8, "series": "c-NCD"},
      {"invE": 0.364, "lnJ": -19.5, "series": "c-NCD"},
      {"invE": 0.37, "lnJ": -19.75, "series": "c-NCD"},
      {"invE": 0.376, "lnJ": -19.45, "series": "c-NCD"},
      {"invE": 0.382, "lnJ": -19.7, "series": "c-NCD"},
      {"invE": 0.388, "lnJ": -19.4, "series": "c-NCD"},
      {"invE": 0.394, "lnJ": -19.65, "series": "c-NCD"},
      {"invE": 0.4, "lnJ": -19.35, "series": "c-NCD"},
      {"invE": 0.406, "lnJ": -19.6, "series": "c-NCD"},
      {"invE": 0.412, "lnJ": -19.3, "series": "c-NCD"},
      {"invE": 0.418, "lnJ": -19.55, "series": "c-NCD"},
      {"invE": 0.424, "lnJ": -19.25, "series": "c-NCD"},
      {"invE": 0.43, "lnJ": -19.5, "series": "c-NCD"},
      {"invE": 0.436, "lnJ": -19.2, "series": "c-NCD"},
      {"invE": 0.442, "lnJ": -19.45, "series": "c-NCD"},
      {"invE": 0.448, "lnJ": -19.15, "series": "c-NCD"},
      {"invE": 0.454, "lnJ": -19.4, "series": "c-NCD"},
      {"invE": 0.46, "lnJ": -19.1, "series": "c-NCD"},
      {"invE": 0.466, "lnJ": -19.35, "series": "c-NCD"},
      {"invE": 0.472, "lnJ": -19.05, "series": "c-NCD"},
      {"invE": 0.478, "lnJ": -19.3, "series": "c-NCD"},
      {"invE": 0.484, "lnJ": -19.0, "series": "c-NCD"},
      {"invE": 0.49, "lnJ": -19.25, "series": "c-NCD"},
      {"invE": 0.496, "lnJ": -19.0, "series": "c-NCD"},
      {"invE": 0.5, "lnJ": -19.2, "series": "c-NCD"}
    ]
  },
  "resolve": {
    "scale": {"color": "independent", "shape": "independent"},
    "legend": {"color": "independent", "shape": "independent"}
  },
  "vconcat": [
    {
      "title": {"text": "(a)", "anchor": "start", "frame": "bounds", "baseline": "top", "offset": -4, "dx": -3},
      "width": 304,
      "height": 224,
      "view": {"stroke": "#404040", "strokeWidth": 1},
      "data": {"name": "fe"},
      "layer": [
        {
          "mark": {"type": "point", "filled": false, "strokeWidth": 0.9, "size": 28, "opacity": 1},
          "encoding": {
            "x": {
              "field": "E", "type": "quantitative",
              "scale": {"domain": [-2, 20], "nice": false, "zero": false},
              "axis": {
                "values": [-2, 0, 2, 4, 6, 8, 10, 12, 14, 16, 18, 20],
                "labelExpr": "toString(datum.value)",
                "tickSize": 5, "labelPadding": 2, "titlePadding": 6,
                "title": "Electric field (V/μm)"
              }
            },
            "y": {
              "field": "J", "type": "quantitative",
              "scale": {"domain": [-0.01, 0.15], "nice": false, "zero": false},
              "axis": {
                "values": [0, 0.02, 0.04, 0.06, 0.08, 0.1, 0.12, 0.14],
                "format": ".2f",
                "tickSize": 5, "labelPadding": 4, "titlePadding": 5,
                "title": "Current density (mA/cm²)"
              }
            },
            "color": {
              "field": "series", "type": "nominal",
              "scale": {
                "domain": ["NDPs with well-faceted edges", "NDPs with irregular faceted edges", "c-NCD"],
                "range": ["#1c1c1c", "#ee1c1c", "#1c1cf0"]
              },
              "legend": {"title": null, "orient": "none", "legendX": 80, "legendY": 12}
            },
            "shape": {
              "field": "series", "type": "nominal",
              "scale": {
                "domain": ["NDPs with well-faceted edges", "NDPs with irregular faceted edges", "c-NCD"],
                "range": ["square", "circle", "triangle-up"]
              },
              "legend": {"title": null, "orient": "none", "legendX": 80, "legendY": 12}
            },
            "order": {"field": "series", "sort": "descending"}
          }
        },
        {
          "mark": {"type": "point", "opacity": 0},
          "encoding": {
            "x": {
              "field": "E", "type": "quantitative",
              "scale": {"domain": [-2, 20], "nice": false, "zero": false},
              "axis": {
                "orient": "bottom",
                "values": [-1, 1, 3, 5, 7, 9, 11, 13, 15, 17, 19],
                "labels": false, "domain": false, "tickSize": 3, "title": null
              }
            },
            "y": {
              "field": "J", "type": "quantitative",
              "scale": {"domain": [-0.01, 0.15], "nice": false, "zero": false},
              "axis": {
                "orient": "left",
                "values": [-0.01, 0.01, 0.03, 0.05, 0.07, 0.09, 0.11, 0.13, 0.15],
                "labels": false, "domain": false, "tickSize": 3, "title": null
              }
            }
          }
        }
      ],
      "resolve": {"axis": {"x": "independent", "y": "independent"}}
    },
    {
      "title": {"text": "(b)", "anchor": "start", "frame": "bounds", "baseline": "top", "offset": -3, "dx": -3},
      "width": 303,
      "height": 225,
      "view": {"stroke": "#404040", "strokeWidth": 1},
      "data": {"name": "fn"},
      "layer": [
        {
          "mark": {"type": "point", "filled": false, "strokeWidth": 0.9, "size": 28, "opacity": 1},
          "encoding": {
            "x": {
              "field": "invE", "type": "quantitative",
              "scale": {"domain": [0, 0.5], "nice": false, "zero": false},
              "axis": {
                "values": [0, 0.1, 0.2, 0.3, 0.4, 0.5],
                "format": ".1f",
                "tickSize": 5, "labelPadding": 2, "titlePadding": 13,
                "title": "1/E (μm/V)"
              }
            },
            "y": {
              "field": "lnJ", "type": "quantitative",
              "scale": {"domain": [-22, -2], "nice": false, "zero": false},
              "axis": {
                "values": [-22, -20, -18, -16, -14, -12, -10, -8, -6, -4, -2],
                "labelExpr": "toString(datum.value)",
                "tickSize": 5, "labelPadding": 4, "titlePadding": 5,
                "title": "ln(J/E²) (mA/cm²)(V/μm)⁻²"
              }
            },
            "color": {
              "field": "series", "type": "nominal",
              "scale": {
                "domain": ["DNPs with well-faceted edges", "DNPs with irregular faceted edges", "c-NCD"],
                "range": ["#1c1c1c", "#ee1c1c", "#1c1cf0"]
              },
              "legend": {"title": null, "orient": "none", "legendX": 66, "legendY": 1}
            },
            "shape": {
              "field": "series", "type": "nominal",
              "scale": {
                "domain": ["DNPs with well-faceted edges", "DNPs with irregular faceted edges", "c-NCD"],
                "range": ["square", "circle", "triangle-up"]
              },
              "legend": {"title": null, "orient": "none", "legendX": 66, "legendY": 1}
            },
            "order": {"field": "series", "sort": "descending"}
          }
        },
        {
          "mark": {"type": "point", "opacity": 0},
          "encoding": {
            "x": {
              "field": "invE", "type": "quantitative",
              "scale": {"domain": [0, 0.5], "nice": false, "zero": false},
              "axis": {
                "orient": "bottom",
                "values": [0.05, 0.15, 0.25, 0.35, 0.45],
                "labels": false, "domain": false, "tickSize": 3, "title": null
              }
            },
            "y": {
              "field": "lnJ", "type": "quantitative",
              "scale": {"domain": [-22, -2], "nice": false, "zero": false},
              "axis": {
                "orient": "left",
                "values": [-21, -19, -17, -15, -13, -11, -9, -7, -5, -3],
                "labels": false, "domain": false, "tickSize": 3, "title": null
              }
            }
          }
        }
      ],
      "resolve": {"axis": {"x": "independent", "y": "independent"}}
    }
  ]
}
